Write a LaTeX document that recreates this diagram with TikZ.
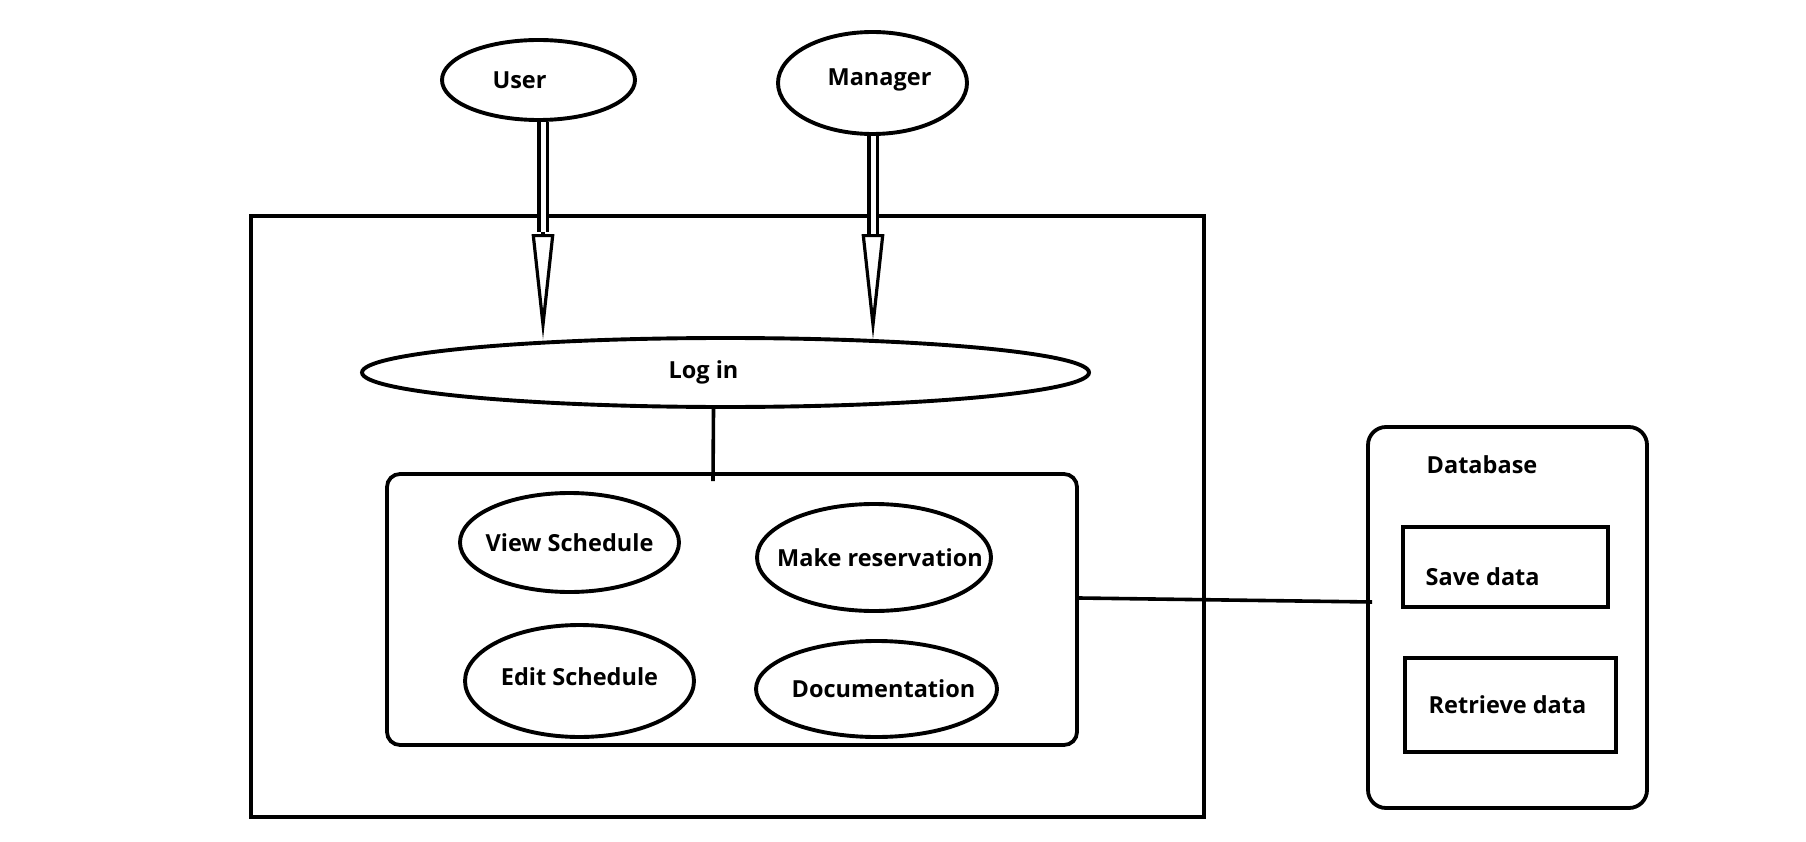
\documentclass[tikz,border=0pt]{standalone}
\usepackage{fontspec}
\setmainfont{Open Sans}
\usepackage{tikz}
\usetikzlibrary{arrows.meta, positioning, shapes.geometric, calc}
\definecolor{pen}{HTML}{000000}

\begin{document}
\begin{tikzpicture}[
  x=1pt, y=-1pt,
  every node/.style={font=\fontsize{23.5pt}{28pt}\selectfont\bfseries, text=pen},
  usecase/.style={draw=pen, ellipse, line width=3.9pt, inner sep=0pt},
  panel/.style={draw=pen, rectangle, line width=3.8pt, inner sep=0pt},
  store/.style={draw=pen, rectangle, line width=3.8pt, inner sep=0pt},
  link/.style={draw=pen, line width=3.6pt},
  stem/.style={draw=pen, double, double distance=5pt, line width=3.4pt},
  head/.style={draw=pen, line width=3.2pt, -{Triangle[open, length=106pt, width=22pt]}}
]
\useasboundingbox (0,0) rectangle (1806,842);

\node[panel, minimum width=953pt, minimum height=601pt] (system) at (727.5,516.5) {};

\node[usecase, minimum width=193pt, minimum height=80pt, label={[xshift=-19pt]center:User}] (user) at (538.5,80) {};
\node[usecase, minimum width=189pt, minimum height=102pt, label={[xshift=7pt, yshift=3pt]center:Manager}] (manager) at (872.5,83) {};
\node[usecase, minimum width=727pt, minimum height=69pt, label={[xshift=-22pt]center:Log in}] (login) at (725.5,372.5) {};

\node[panel, rounded corners=13pt, minimum width=690pt, minimum height=271pt] (tasks) at (732,609.5) {};
\node[usecase, minimum width=219pt, minimum height=99pt, label=center:View Schedule] (view) at (569.5,542.5) {};
\node[usecase, minimum width=234pt, minimum height=107pt, label={[xshift=6pt]center:Make reservation}] (reserve) at (874,557.5) {};
\node[usecase, minimum width=229pt, minimum height=112pt, label={[yshift=4pt]center:Edit Schedule}] (edit) at (579.5,681) {};
\node[usecase, minimum width=241pt, minimum height=96pt, label={[xshift=7pt]center:Documentation}] (docs) at (876.5,689) {};

\node[panel, rounded corners=18pt, minimum width=279pt, minimum height=381pt] (db) at (1507.5,617.5) {};
\node (dbname) at (1482,465) {Database};
\node[store, minimum width=205pt, minimum height=80pt, label={[anchor=west, xshift=21pt, yshift=-10pt]west:Save data}] (save) at (1505.5,567) {};
\node[store, minimum width=211pt, minimum height=94pt, label={[anchor=west, xshift=22pt]west:Retrieve data}] (retrieve) at (1510.5,705) {};

\coordinate (userhead) at (543,232);
\coordinate (mgrhead) at (873,236);
\coordinate (loginfoot) at ([xshift=-19pt, yshift=-9pt]tasks.north);

\draw[stem] (user.south -| userhead) -- (userhead);
\draw[head] (userhead) -- ($(userhead |- login.north)+(0,4)$);
\draw[stem] (manager.south -| mgrhead) -- (mgrhead);
\draw[head] (mgrhead) -- ($(mgrhead |- login.north)+(0,4)$);

\draw[link] ([xshift=-12pt]login.south) -- (loginfoot);
\draw[link] ([yshift=11.5pt]tasks.east) -- ([xshift=6pt, yshift=15.5pt]db.west);
\end{tikzpicture}
\end{document}
